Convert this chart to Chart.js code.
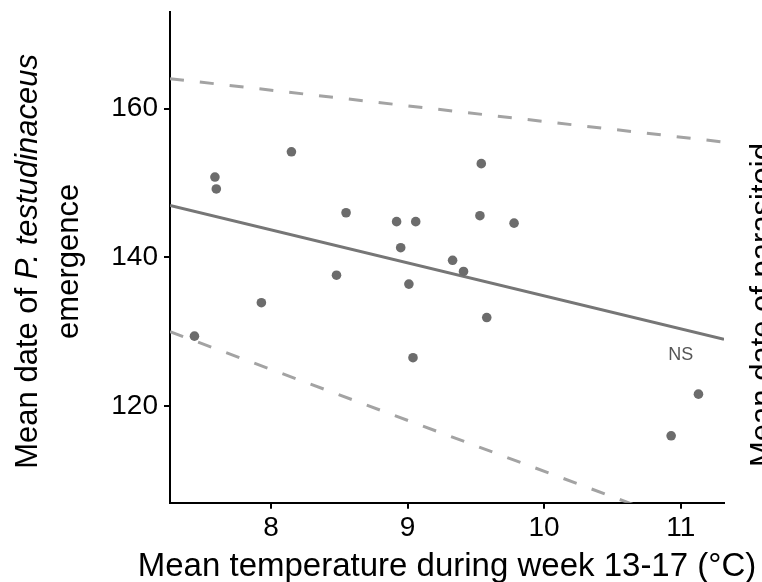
<!DOCTYPE html>
<html>
<head>
<meta charset="utf-8">
<script src="https://cdn.jsdelivr.net/npm/chart.js@4.4.0/dist/chart.umd.min.js"></script>
<style>
  html, body { margin: 0; padding: 0; background: #ffffff; }
  #wrap { width: 762px; height: 582px; }
</style>
</head>
<body>
<div id="wrap"><canvas id="c" width="762" height="582"></canvas></div>
<script>
// ---- data ----
const xTicks = [8, 9, 10, 11];
const yTicks = [120, 140, 160];
const xRange = [7.261, 11.317];
const yRange = [107, 173];

// mean temperature during week 13-17 (°C)
const temperature = [8.15, 7.59, 7.60, 8.55, 8.92, 9.06, 8.95, 8.48, 9.01, 7.93,
                     7.44, 9.04, 9.54, 9.53, 9.78, 9.33, 9.41, 9.58, 11.13, 10.93];
// mean date of P. testudinaceus emergence
const emergence   = [154.2, 150.8, 149.2, 146.0, 144.8, 144.8, 141.3, 137.6, 136.4, 133.9,
                     129.4, 126.5, 152.6, 145.6, 144.6, 139.6, 138.1, 131.9, 121.6, 116.0];

// fitted regression line and prediction limits (endpoints at axis limits)
const fitX   = [7.261, 11.317];
const fitY   = [146.98, 128.98];
const upperY = [164.04, 155.5];
const lowerY = [130.0, 102.2];

const nsLabel = { text: 'NS', x: 11.0, y: 126.8 };

const yTitleLine1 = ['Mean date of ', 'P. testudinaceus'];
const yTitleLine2 = 'emergence';
const xTitle = 'Mean temperature during week 13-17 (\u00B0C)';
const rightPanelTitle = 'Mean date of parasitoid';

// ---- chart ----
const FONT = '"Liberation Sans", Arial, Helvetica, sans-serif';
const pts = (xs, ys) => xs.map((x, i) => ({ x: x, y: ys[i] }));

const textPlugin = {
  id: 'extraText',
  afterDraw(chart) {
    const ctx = chart.ctx;
    const { x, y } = chart.scales;
    const area = chart.chartArea;
    ctx.save();
    // NS label
    ctx.fillStyle = '#555555';
    ctx.font = '18px ' + FONT;
    ctx.textAlign = 'center';
    ctx.textBaseline = 'middle';
    ctx.fillText(nsLabel.text, x.getPixelForValue(nsLabel.x), y.getPixelForValue(nsLabel.y));

    ctx.fillStyle = '#000000';
    ctx.textBaseline = 'alphabetic';

    // x axis title (may extend beyond the plot width)
    ctx.font = '33px ' + FONT;
    ctx.textAlign = 'center';
    ctx.fillText(xTitle, (area.left + area.right) / 2, 576);

    // y axis title (two lines, rotated)
    const cy = (area.top + area.bottom) / 2 + 4;
    ctx.save();
    ctx.translate(37, cy);
    ctx.rotate(-Math.PI / 2);
    const fN = '31px ' + FONT, fI = 'italic 31px ' + FONT;
    ctx.font = fN; const w1 = ctx.measureText(yTitleLine1[0]).width;
    ctx.font = fI; const w2 = ctx.measureText(yTitleLine1[1]).width;
    let sx = -(w1 + w2) / 2;
    ctx.textAlign = 'left';
    ctx.font = fN; ctx.fillText(yTitleLine1[0], sx, 0);
    ctx.font = fI; ctx.fillText(yTitleLine1[1], sx + w1, 0);
    ctx.font = fN; ctx.textAlign = 'center';
    ctx.fillText(yTitleLine2, 0, 41);
    ctx.restore();

    // neighbouring panel title (cut at the edge)
    ctx.save();
    ctx.translate(772, 305);
    ctx.rotate(-Math.PI / 2);
    ctx.font = '31px ' + FONT;
    ctx.textAlign = 'center';
    ctx.fillText(rightPanelTitle, 0, 0);
    ctx.restore();
    ctx.restore();
  }
};

const axisCommon = {
  type: 'linear',
  grid: { display: true, drawOnChartArea: false, drawTicks: true, tickLength: 6, color: '#000000', lineWidth: 2 },
  border: { display: true, color: '#000000', width: 2 },
};

new Chart(document.getElementById('c'), {
  type: 'scatter',
  data: {
    datasets: [
      { label: 'upper', type: 'line', data: pts(fitX, upperY), showLine: true,
        borderColor: '#a3a3a3', borderWidth: 3, borderDash: [14, 16], pointRadius: 0, order: 4 },
      { label: 'lower', type: 'line', data: pts(fitX, lowerY), showLine: true,
        borderColor: '#a3a3a3', borderWidth: 3, borderDash: [14, 16], pointRadius: 0, order: 3 },
      { label: 'fit', type: 'line', data: pts(fitX, fitY), showLine: true,
        borderColor: '#767676', borderWidth: 3, pointRadius: 0, order: 2 },
      { label: 'obs', data: pts(temperature, emergence),
        backgroundColor: '#6c6c6c', borderWidth: 0, pointRadius: 4.8, order: 1 }
    ]
  },
  options: {
    responsive: false,
    animation: false,
    devicePixelRatio: 1,
    layout: { padding: { top: 12, right: 38, left: 0, bottom: 0 } },
    plugins: { legend: { display: false }, tooltip: { enabled: false } },
    scales: {
      x: Object.assign({}, axisCommon, {
        min: xRange[0], max: xRange[1],
        afterBuildTicks: (a) => { a.ticks = xTicks.map(v => ({ value: v })); },
        afterFit: (a) => { a.height = 79.3; a.paddingLeft = 0; a.paddingRight = 0; },
        ticks: { color: '#000000', font: { family: FONT, size: 28 }, padding: 3 },
        title: { display: false }
      }),
      y: Object.assign({}, axisCommon, {
        min: yRange[0], max: yRange[1],
        afterBuildTicks: (a) => { a.ticks = yTicks.map(v => ({ value: v })); },
        afterFit: (a) => { a.width = 170; a.paddingTop = 0; a.paddingBottom = 0; },
        ticks: { color: '#000000', font: { family: FONT, size: 28 }, padding: 6 }
      })
    }
  },
  plugins: [textPlugin]
});
</script>
</body>
</html>
